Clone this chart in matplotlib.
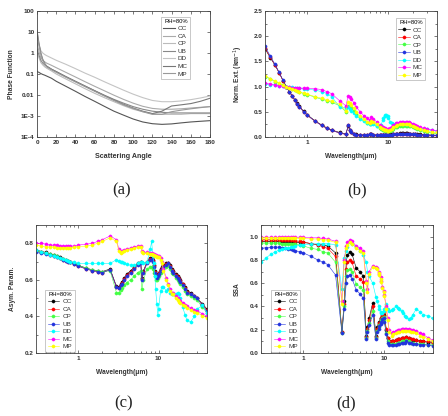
import matplotlib
matplotlib.use('Agg')
import matplotlib.pyplot as plt
from matplotlib.ticker import FixedLocator, NullFormatter, LogLocator, FixedFormatter, MultipleLocator

plt.rcParams['font.family'] = ['Liberation Sans', 'DejaVu Sans']

SERIES = ['CC', 'CA', 'CP', 'UB', 'DD', 'MC', 'MP']
COLORS = ['black', 'red', '#44ff44', '#2233dd', 'cyan', 'magenta', 'yellow']
GRAYS = ['#555555', '#aaaaaa', '#bbbbbb', '#888888', '#c4c4c4', '#777777', '#999999']
LEGEND_TITLE = 'RH=80%'

# ---------------- (a) phase function ----------------
ANGLE = [0, 2, 4, 6, 8, 10, 15, 20, 30, 40, 50, 60, 70, 80, 90, 100, 110, 120, 130, 140, 150, 160, 170, 180]
PF_CC = [0.13, 0.12, 0.105, 0.095, 0.088, 0.08, 0.063, 0.045, 0.026, 0.015, 0.0085, 0.005, 0.0029, 0.0017,
         0.0011, 0.00072, 0.00052, 0.00043, 0.0004, 0.00042, 0.00047, 0.00052, 0.00056, 0.0006]
PF_CA = [3.0, 1.2, 0.6, 0.45, 0.38, 0.33, 0.26, 0.2, 0.12, 0.072, 0.043, 0.026, 0.016, 0.0098,
         0.0062, 0.0041, 0.0029, 0.0023, 0.0021, 0.0021, 0.0022, 0.0024, 0.0026, 0.0028]
PF_CP = [1.0, 0.6, 0.35, 0.27, 0.22, 0.19, 0.14, 0.1, 0.058, 0.034, 0.02, 0.012, 0.0075, 0.0048,
         0.0031, 0.0021, 0.0016, 0.0013, 0.0012, 0.0012, 0.0012, 0.0013, 0.0013, 0.0013]
PF_UB = [1.5, 0.8, 0.45, 0.33, 0.27, 0.23, 0.17, 0.13, 0.075, 0.044, 0.026, 0.016, 0.0098, 0.0062,
         0.0041, 0.0028, 0.0021, 0.0017, 0.0015, 0.0014, 0.0014, 0.0014, 0.0014, 0.0014]
PF_DD = [6.0, 2.5, 1.3, 1.0, 0.85, 0.75, 0.58, 0.45, 0.29, 0.18, 0.11, 0.07, 0.043, 0.027,
         0.017, 0.011, 0.0075, 0.0055, 0.0048, 0.0048, 0.0052, 0.006, 0.0072, 0.009]
PF_MC = [12.0, 3.0, 1.0, 0.5, 0.32, 0.24, 0.17, 0.13, 0.075, 0.045, 0.027, 0.016, 0.0095, 0.0058,
         0.0036, 0.0024, 0.0017, 0.0013, 0.0017, 0.003, 0.0034, 0.0039, 0.005, 0.007]
PF_MP = [10.0, 2.5, 0.9, 0.45, 0.3, 0.22, 0.16, 0.12, 0.07, 0.042, 0.025, 0.015, 0.009, 0.0055,
         0.0034, 0.0023, 0.0016, 0.0012, 0.0012, 0.0016, 0.0019, 0.0022, 0.0025, 0.0028]
PF_TICKS = [1e-4, 1e-3, 1e-2, 1e-1, 1, 10, 100]
PF_TICKLABELS = ['1E-4', '1E-3', '0.01', '0.1', '1', '10', '100']

# ---------------- wavelengths ----------------
WL = [0.30, 0.35, 0.40, 0.45, 0.50, 0.55, 0.60, 0.65, 0.70, 0.75, 0.80,
      0.90, 1.00, 1.25, 1.50, 1.75, 2.00, 2.50,
      3.00, 3.20, 3.39, 3.50, 3.75, 4.00, 4.50, 5.00, 5.50, 6.00, 6.20, 6.50, 7.20, 7.90,
      8.20, 8.50, 8.70, 9.00, 9.20, 9.50, 9.80, 10.0,
      10.6, 11.0, 11.5, 12.5, 13.0, 14.0, 14.8, 15.0, 16.4, 17.2, 18.0, 18.5, 20.0,
      21.3, 22.5, 25.0, 27.9, 30.0, 35.0, 40.0]

# ---------------- (b) normalized extinction ----------------
EXT_CC = [1.75, 1.57, 1.42, 1.27, 1.12, 1.00, 0.90, 0.82, 0.74, 0.67, 0.61,
          0.51, 0.44, 0.32, 0.24, 0.18, 0.14, 0.09,
          0.06, 0.22, 0.13, 0.09, 0.06, 0.05, 0.04, 0.04, 0.04, 0.05, 0.05, 0.04, 0.04, 0.04,
          0.04, 0.04, 0.04, 0.04, 0.04, 0.04, 0.04, 0.04,
          0.05, 0.05, 0.05, 0.06, 0.06, 0.07, 0.07, 0.07, 0.07, 0.07, 0.06, 0.06, 0.06,
          0.05, 0.05, 0.05, 0.04, 0.04, 0.04, 0.03]
EXT_CA = [1.77, 1.58, 1.43, 1.27, 1.12, 1.00, 0.90, 0.81, 0.73, 0.66, 0.60,
          0.50, 0.43, 0.31, 0.23, 0.17, 0.13, 0.08,
          0.05, 0.23, 0.14, 0.09, 0.05, 0.04, 0.04, 0.04, 0.04, 0.05, 0.05, 0.04, 0.04, 0.03,
          0.03, 0.03, 0.03, 0.03, 0.03, 0.03, 0.03, 0.03,
          0.04, 0.04, 0.05, 0.05, 0.06, 0.06, 0.06, 0.06, 0.06, 0.06, 0.05, 0.05, 0.05,
          0.05, 0.04, 0.04, 0.04, 0.04, 0.03, 0.03]
EXT_CP = [1.20, 1.15, 1.10, 1.06, 1.03, 1.00, 0.97, 0.95, 0.93, 0.91, 0.89,
          0.86, 0.84, 0.79, 0.75, 0.72, 0.69, 0.62,
          0.50, 0.62, 0.60, 0.57, 0.52, 0.46, 0.39, 0.33, 0.28, 0.26, 0.29, 0.27, 0.22, 0.17,
          0.15, 0.14, 0.13, 0.13, 0.12, 0.12, 0.11, 0.11,
          0.12, 0.14, 0.16, 0.19, 0.20, 0.21, 0.22, 0.22, 0.22, 0.22, 0.21, 0.21, 0.19,
          0.17, 0.16, 0.13, 0.11, 0.10, 0.08, 0.07]
EXT_UB = [1.80, 1.60, 1.44, 1.28, 1.13, 1.00, 0.90, 0.81, 0.73, 0.66, 0.60,
          0.50, 0.43, 0.31, 0.23, 0.17, 0.13, 0.08,
          0.05, 0.24, 0.14, 0.09, 0.05, 0.04, 0.04, 0.04, 0.04, 0.05, 0.05, 0.04, 0.04, 0.03,
          0.03, 0.03, 0.03, 0.03, 0.03, 0.03, 0.03, 0.03,
          0.04, 0.04, 0.05, 0.05, 0.06, 0.06, 0.06, 0.06, 0.06, 0.06, 0.05, 0.05, 0.05,
          0.05, 0.04, 0.04, 0.04, 0.04, 0.03, 0.03]
EXT_DD = [1.05, 1.04, 1.03, 1.02, 1.01, 1.00, 0.99, 0.99, 0.98, 0.97, 0.97,
          0.96, 0.95, 0.93, 0.90, 0.86, 0.80, 0.60,
          0.58, 0.60, 0.56, 0.52, 0.47, 0.42, 0.36, 0.31, 0.27, 0.25, 0.26, 0.25, 0.21, 0.20,
          0.24, 0.33, 0.38, 0.42, 0.43, 0.44, 0.42, 0.38,
          0.30, 0.27, 0.26, 0.26, 0.26, 0.27, 0.27, 0.27, 0.26, 0.26, 0.25, 0.25, 0.23,
          0.21, 0.20, 0.18, 0.16, 0.15, 0.13, 0.12]
EXT_MC = [1.07, 1.05, 1.03, 1.02, 1.01, 1.00, 0.99, 0.98, 0.98, 0.98, 0.97,
          0.97, 0.97, 0.96, 0.94, 0.90, 0.86, 0.72,
          0.62, 0.82, 0.80, 0.76, 0.68, 0.60, 0.50, 0.42, 0.37, 0.34, 0.39, 0.36, 0.30, 0.23,
          0.21, 0.19, 0.18, 0.17, 0.16, 0.16, 0.15, 0.15,
          0.17, 0.20, 0.23, 0.27, 0.28, 0.29, 0.30, 0.30, 0.30, 0.30, 0.29, 0.28, 0.26,
          0.24, 0.22, 0.19, 0.17, 0.16, 0.14, 0.12]
EXT_MP = [1.22, 1.16, 1.11, 1.07, 1.03, 1.00, 0.97, 0.95, 0.93, 0.91, 0.90,
          0.87, 0.85, 0.80, 0.77, 0.74, 0.71, 0.65,
          0.52, 0.70, 0.68, 0.64, 0.57, 0.50, 0.42, 0.35, 0.30, 0.28, 0.32, 0.30, 0.25, 0.19,
          0.17, 0.15, 0.15, 0.14, 0.13, 0.13, 0.12, 0.12,
          0.14, 0.16, 0.19, 0.22, 0.23, 0.25, 0.26, 0.26, 0.26, 0.26, 0.25, 0.24, 0.22,
          0.20, 0.18, 0.15, 0.13, 0.12, 0.10, 0.09]

# ---------------- (c) asymmetry parameter ----------------
ASY_CC = [0.765, 0.755, 0.75, 0.74, 0.735, 0.73, 0.725, 0.715, 0.71, 0.705, 0.70,
          0.69, 0.68, 0.665, 0.655, 0.65, 0.645, 0.66,
          0.565, 0.56, 0.575, 0.59, 0.61, 0.63, 0.65, 0.67, 0.69, 0.70, 0.61, 0.65, 0.70, 0.72,
          0.72, 0.71, 0.68, 0.65, 0.63, 0.62, 0.63, 0.64,
          0.66, 0.67, 0.68, 0.69, 0.69, 0.68, 0.66, 0.65, 0.63, 0.62, 0.61, 0.60, 0.58,
          0.56, 0.54, 0.53, 0.51, 0.50, 0.47, 0.44]
ASY_CA = [0.76, 0.75, 0.745, 0.735, 0.73, 0.725, 0.72, 0.71, 0.705, 0.70, 0.695,
          0.685, 0.675, 0.66, 0.65, 0.645, 0.64, 0.655,
          0.56, 0.555, 0.57, 0.585, 0.605, 0.625, 0.645, 0.665, 0.685, 0.695, 0.605, 0.645, 0.695, 0.715,
          0.715, 0.705, 0.675, 0.645, 0.625, 0.615, 0.625, 0.635,
          0.655, 0.665, 0.675, 0.685, 0.69, 0.675, 0.655, 0.645, 0.625, 0.615, 0.605, 0.595, 0.575,
          0.555, 0.535, 0.525, 0.51, 0.50, 0.465, 0.435]
ASY_CP = [0.76, 0.75, 0.745, 0.74, 0.735, 0.73, 0.72, 0.715, 0.71, 0.705, 0.70,
          0.69, 0.68, 0.665, 0.655, 0.65, 0.645, 0.65,
          0.53, 0.53, 0.545, 0.555, 0.57, 0.585, 0.60, 0.62, 0.64, 0.65, 0.55, 0.60, 0.66, 0.67,
          0.67, 0.66, 0.64, 0.62, 0.60, 0.60, 0.61, 0.62,
          0.64, 0.65, 0.66, 0.67, 0.68, 0.66, 0.64, 0.63, 0.61, 0.60, 0.59, 0.58, 0.56,
          0.54, 0.52, 0.51, 0.50, 0.49, 0.45, 0.42]
ASY_UB = [0.75, 0.745, 0.74, 0.735, 0.73, 0.725, 0.72, 0.71, 0.705, 0.70, 0.695,
          0.685, 0.675, 0.66, 0.65, 0.645, 0.64, 0.655,
          0.56, 0.555, 0.57, 0.58, 0.60, 0.62, 0.64, 0.66, 0.68, 0.69, 0.60, 0.64, 0.69, 0.71,
          0.715, 0.70, 0.67, 0.64, 0.62, 0.61, 0.62, 0.63,
          0.65, 0.66, 0.67, 0.68, 0.69, 0.67, 0.65, 0.64, 0.62, 0.61, 0.60, 0.59, 0.57,
          0.55, 0.53, 0.52, 0.51, 0.50, 0.46, 0.43]
ASY_DD = [0.765, 0.755, 0.745, 0.735, 0.73, 0.725, 0.72, 0.715, 0.71, 0.705, 0.70,
          0.695, 0.69, 0.69, 0.69, 0.69, 0.69, 0.69,
          0.71, 0.705, 0.70, 0.70, 0.69, 0.685, 0.68, 0.68, 0.69, 0.70, 0.70, 0.69, 0.70, 0.77,
          0.81, 0.73, 0.69, 0.62, 0.55, 0.47, 0.41, 0.44,
          0.54, 0.56, 0.56, 0.54, 0.55, 0.53, 0.52, 0.52, 0.52, 0.53, 0.52, 0.50, 0.45,
          0.41, 0.38, 0.37, 0.40, 0.44, 0.46, 0.42]
ASY_MC = [0.80, 0.80, 0.795, 0.79, 0.79, 0.79, 0.785, 0.785, 0.785, 0.785, 0.785,
          0.785, 0.79, 0.795, 0.80, 0.81, 0.82, 0.84,
          0.82, 0.77, 0.75, 0.76, 0.765, 0.77, 0.775, 0.78, 0.785, 0.785, 0.76, 0.75, 0.75, 0.745,
          0.745, 0.74, 0.74, 0.735, 0.735, 0.73, 0.73, 0.73,
          0.72, 0.70, 0.66, 0.61, 0.58, 0.55, 0.53, 0.53, 0.51, 0.50, 0.49, 0.485, 0.475,
          0.465, 0.455, 0.445, 0.435, 0.43, 0.415, 0.40]
ASY_MP = [0.79, 0.785, 0.78, 0.78, 0.78, 0.775, 0.775, 0.775, 0.775, 0.775, 0.775,
          0.78, 0.78, 0.785, 0.79, 0.80, 0.81, 0.83,
          0.81, 0.76, 0.745, 0.75, 0.76, 0.765, 0.77, 0.775, 0.78, 0.78, 0.755, 0.745, 0.745, 0.74,
          0.74, 0.735, 0.735, 0.73, 0.73, 0.725, 0.725, 0.725,
          0.71, 0.69, 0.65, 0.60, 0.57, 0.54, 0.52, 0.52, 0.50, 0.49, 0.48, 0.475, 0.465,
          0.455, 0.445, 0.435, 0.425, 0.42, 0.405, 0.39]

# ---------------- (d) single scattering albedo ----------------
SSA_CC = [0.96, 0.96, 0.96, 0.96, 0.96, 0.96, 0.96, 0.96, 0.96, 0.955, 0.955,
          0.95, 0.95, 0.94, 0.93, 0.93, 0.92, 0.86,
          0.18, 0.45, 0.78, 0.84, 0.87, 0.85, 0.73, 0.70, 0.66, 0.15, 0.22, 0.30, 0.43, 0.15,
          0.22, 0.25, 0.27, 0.29, 0.30, 0.32, 0.33, 0.30,
          0.20, 0.13, 0.10, 0.10, 0.10, 0.11, 0.12, 0.12, 0.13, 0.13, 0.13, 0.14, 0.13,
          0.12, 0.11, 0.11, 0.10, 0.10, 0.09, 0.09]
SSA_CA = [0.975, 0.975, 0.975, 0.975, 0.975, 0.97, 0.97, 0.97, 0.97, 0.97, 0.965,
          0.96, 0.955, 0.94, 0.93, 0.91, 0.90, 0.83,
          0.18, 0.42, 0.72, 0.78, 0.80, 0.78, 0.66, 0.64, 0.61, 0.14, 0.21, 0.28, 0.40, 0.14,
          0.21, 0.24, 0.26, 0.28, 0.30, 0.33, 0.35, 0.32,
          0.21, 0.13, 0.10, 0.10, 0.10, 0.11, 0.12, 0.12, 0.13, 0.13, 0.13, 0.14, 0.13,
          0.12, 0.12, 0.11, 0.10, 0.10, 0.10, 0.09]
SSA_CP = [0.945, 0.945, 0.945, 0.945, 0.945, 0.94, 0.94, 0.94, 0.94, 0.935, 0.935,
          0.93, 0.92, 0.90, 0.89, 0.87, 0.86, 0.78,
          0.17, 0.40, 0.66, 0.71, 0.72, 0.70, 0.59, 0.57, 0.54, 0.13, 0.19, 0.26, 0.36, 0.13,
          0.19, 0.22, 0.24, 0.26, 0.28, 0.30, 0.31, 0.28,
          0.17, 0.10, 0.08, 0.08, 0.08, 0.08, 0.09, 0.09, 0.10, 0.10, 0.10, 0.11, 0.10,
          0.09, 0.09, 0.08, 0.08, 0.08, 0.07, 0.07]
SSA_UB = [0.90, 0.905, 0.91, 0.91, 0.91, 0.905, 0.90, 0.895, 0.89, 0.885, 0.88,
          0.87, 0.86, 0.83, 0.80, 0.78, 0.76, 0.67,
          0.17, 0.38, 0.60, 0.66, 0.67, 0.64, 0.54, 0.51, 0.47, 0.12, 0.18, 0.24, 0.33, 0.12,
          0.18, 0.21, 0.23, 0.25, 0.27, 0.29, 0.30, 0.27,
          0.16, 0.09, 0.07, 0.07, 0.07, 0.07, 0.08, 0.08, 0.09, 0.09, 0.09, 0.10, 0.09,
          0.09, 0.08, 0.08, 0.07, 0.07, 0.07, 0.06]
SSA_DD = [0.78, 0.82, 0.85, 0.87, 0.885, 0.895, 0.90, 0.905, 0.91, 0.915, 0.92,
          0.925, 0.93, 0.935, 0.94, 0.94, 0.94, 0.93,
          0.55, 0.82, 0.88, 0.91, 0.95, 0.94, 0.91, 0.88, 0.84, 0.78, 0.70, 0.66, 0.60, 0.48,
          0.45, 0.40, 0.38, 0.35, 0.34, 0.34, 0.36, 0.38,
          0.42, 0.38, 0.36, 0.37, 0.38, 0.40, 0.39, 0.38, 0.36, 0.34, 0.32, 0.31, 0.29,
          0.30, 0.33, 0.38, 0.35, 0.33, 0.32, 0.30]
SSA_MC = [0.995, 0.995, 0.995, 0.995, 0.995, 0.995, 0.995, 0.995, 0.995, 0.995, 0.995,
          0.995, 0.995, 0.99, 0.99, 0.985, 0.98, 0.96,
          0.45, 0.80, 0.92, 0.95, 0.97, 0.96, 0.92, 0.90, 0.88, 0.62, 0.55, 0.70, 0.75, 0.74,
          0.73, 0.70, 0.68, 0.65, 0.62, 0.57, 0.53, 0.50,
          0.40, 0.30, 0.20, 0.17, 0.18, 0.19, 0.20, 0.20, 0.21, 0.21, 0.21, 0.21, 0.21,
          0.20, 0.20, 0.19, 0.17, 0.16, 0.13, 0.11]
SSA_MP = [0.99, 0.99, 0.99, 0.99, 0.99, 0.99, 0.99, 0.99, 0.99, 0.99, 0.99,
          0.985, 0.985, 0.98, 0.98, 0.975, 0.97, 0.95,
          0.42, 0.78, 0.90, 0.93, 0.95, 0.94, 0.90, 0.88, 0.86, 0.60, 0.52, 0.68, 0.74, 0.73,
          0.72, 0.69, 0.67, 0.64, 0.61, 0.56, 0.52, 0.49,
          0.38, 0.28, 0.18, 0.15, 0.16, 0.17, 0.18, 0.18, 0.19, 0.19, 0.19, 0.19, 0.19,
          0.18, 0.18, 0.17, 0.15, 0.14, 0.12, 0.10]

PF = [PF_CC, PF_CA, PF_CP, PF_UB, PF_DD, PF_MC, PF_MP]
EXT = [EXT_CC, EXT_CA, EXT_CP, EXT_UB, EXT_DD, EXT_MC, EXT_MP]
ASY = [ASY_CC, ASY_CA, ASY_CP, ASY_UB, ASY_DD, ASY_MC, ASY_MP]
SSA = [SSA_CC, SSA_CA, SSA_CP, SSA_UB, SSA_DD, SSA_MC, SSA_MP]

TICK_FS = 4.6
LABEL_FS = 4.8
LEG_FS = 4.6

fig = plt.figure(figsize=(4.48, 4.16), dpi=100)
W, H = 448.0, 416.0


def add_ax(l, r, t, b):
    return fig.add_axes([l / W, 1 - b / H, (r - l) / W, (b - t) / H])


def style(ax):
    for s in ax.spines.values():
        s.set_linewidth(0.6)
        s.set_color('#444444')
    ax.tick_params(which='both', direction='in', top=True, right=True,
                   labelsize=TICK_FS, width=0.5, colors='#444444', pad=2)
    ax.tick_params(which='major', length=2.2)
    ax.tick_params(which='minor', length=1.2)
    for lab in ax.get_xticklabels() + ax.get_yticklabels():
        lab.set_fontweight('bold')
        lab.set_color('#333333')


def legend(ax, **kw):
    lg = ax.legend(title=LEGEND_TITLE, fontsize=LEG_FS, title_fontsize=LEG_FS - 0.4,
                   frameon=True, fancybox=False, edgecolor='#888888', borderpad=0.35,
                   labelspacing=0.32, handlelength=1.8, handletextpad=0.5,
                   borderaxespad=0.0, markerfirst=True, alignment='right', **kw)
    lg.get_frame().set_linewidth(0.4)
    for t in lg.get_texts():
        t.set_color('#333333')
        t.set_ha('right')
    return lg


def log_wl_axis(ax):
    ax.set_xscale('log')
    ax.set_xlim(0.3, 40)
    ax.xaxis.set_major_locator(FixedLocator([1, 10]))
    ax.xaxis.set_major_formatter(FixedFormatter(['1', '10']))
    ax.xaxis.set_minor_locator(LogLocator(base=10, subs=[2, 3, 4, 5, 6, 7, 8, 9]))
    ax.xaxis.set_minor_formatter(NullFormatter())
    ax.set_xlabel('Wavelength(\u03bcm)', fontsize=LABEL_FS, fontweight='bold', color='#333333', labelpad=6)


def scatter_series(ax, data):
    for name, col, vals in zip(SERIES, COLORS, data):
        ax.plot(WL, vals, color=col, lw=0.4, marker='o', ms=2.3, mec=col, mew=0.3,
                label=name)


# (a)
ax = add_ax(37, 210, 11, 137)
for name, g, vals in zip(SERIES, GRAYS, PF):
    ax.plot(ANGLE, vals, color=g, lw=0.8, label=name)
ax.set_yscale('log')
ax.set_ylim(1e-4, 100)
ax.set_xlim(0, 180)
ax.xaxis.set_major_locator(FixedLocator(list(range(0, 181, 20))))
ax.xaxis.set_minor_locator(MultipleLocator(10))
ax.yaxis.set_major_locator(FixedLocator(PF_TICKS))
ax.yaxis.set_major_formatter(FixedFormatter(PF_TICKLABELS))
ax.yaxis.set_minor_locator(FixedLocator([]))
ax.set_xlabel('Scattering Angle', fontsize=LABEL_FS + 0.3, fontweight='bold', color='#333333', labelpad=6)
ax.set_ylabel('Phase Function', fontsize=LABEL_FS, fontweight='bold', color='#333333', labelpad=4)
style(ax)
legend(ax, loc='upper right', bbox_to_anchor=(0.885, 0.955))

# (b)
ax = add_ax(265, 437, 11, 137)
scatter_series(ax, EXT)
log_wl_axis(ax)
ax.set_ylim(0, 2.5)
ax.yaxis.set_major_locator(FixedLocator([0, 0.5, 1.0, 1.5, 2.0, 2.5]))
ax.yaxis.set_major_formatter(FixedFormatter(['0.0', '0.5', '1.0', '1.5', '2.0', '2.5']))
ax.yaxis.set_minor_locator(MultipleLocator(0.25))
ax.set_ylabel('Norm. Ext. (km$^{-1}$)', fontsize=LABEL_FS, fontweight='bold', color='#333333', labelpad=6)
style(ax)
legend(ax, loc='upper right', bbox_to_anchor=(0.93, 0.945))

# (c)
ax = add_ax(36, 207, 225, 353)
scatter_series(ax, ASY)
log_wl_axis(ax)
ax.set_ylim(0.2, 0.9)
ax.yaxis.set_major_locator(FixedLocator([0.2, 0.4, 0.6, 0.8]))
ax.yaxis.set_major_formatter(FixedFormatter(['0.2', '0.4', '0.6', '0.8']))
ax.yaxis.set_minor_locator(MultipleLocator(0.1))
ax.set_ylabel('Asym. Param.', fontsize=LABEL_FS, fontweight='bold', color='#333333', labelpad=6)
style(ax)
legend(ax, loc='lower left', bbox_to_anchor=(0.055, 0.01))

# (d)
ax = add_ax(261, 433, 225, 353)
scatter_series(ax, SSA)
log_wl_axis(ax)
ax.set_ylim(0, 1.1)
ax.yaxis.set_major_locator(FixedLocator([0, 0.2, 0.4, 0.6, 0.8, 1.0]))
ax.yaxis.set_major_formatter(FixedFormatter(['0.0', '0.2', '0.4', '0.6', '0.8', '1.0']))
ax.yaxis.set_minor_locator(MultipleLocator(0.1))
ax.set_ylabel('SSA', fontsize=LABEL_FS, fontweight='bold', color='#333333', labelpad=6)
style(ax)
legend(ax, loc='lower left', bbox_to_anchor=(0.06, 0.01))

# panel captions
for txt, x, y in [('(a)', 122, 190), ('(b)', 357, 190), ('(c)', 124, 403), ('(d)', 346, 403)]:
    fig.text(x / W, 1 - y / H, txt, ha='center', va='center', fontsize=12,
             family=['Liberation Serif', 'DejaVu Serif'], color='#222222')

fig.savefig('out.png', dpi=100, facecolor='white')
